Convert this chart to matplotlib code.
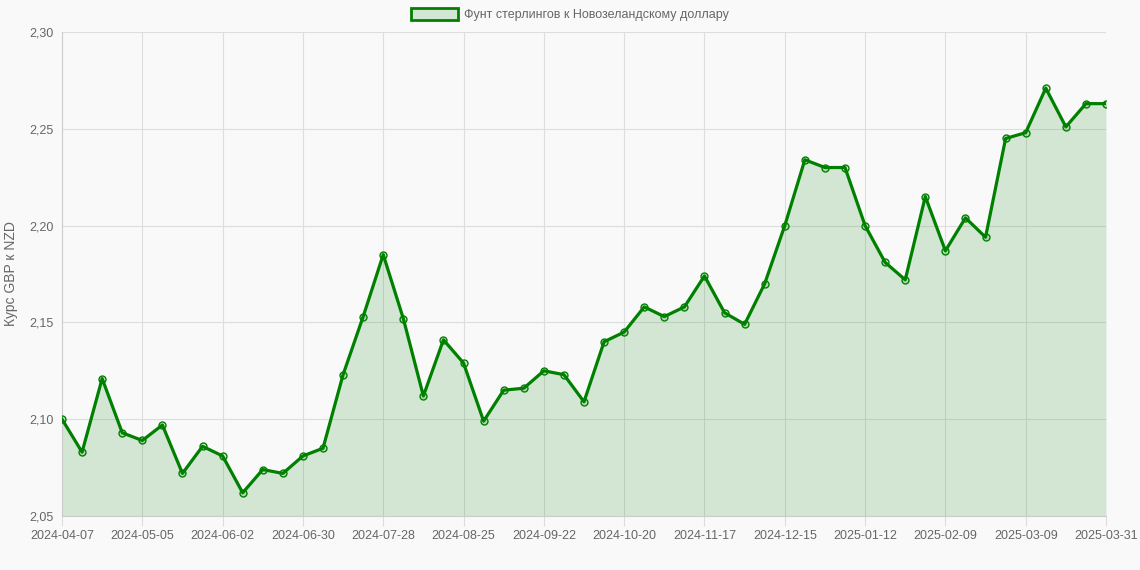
import matplotlib.pyplot as plt
from matplotlib.patches import Patch

plt.rcParams['font.family'] = ['Liberation Sans', 'DejaVu Sans']
plt.rcParams['font.size'] = 9

series_name = "Фунт стерлингов к Новозеландскому доллару"
y_label = "Курс GBP к NZD"

rates = [
    2.100, 2.083, 2.121, 2.093, 2.089, 2.097, 2.072, 2.086, 2.081, 2.062,
    2.074, 2.072, 2.081, 2.085, 2.123, 2.153, 2.185, 2.152, 2.112, 2.141,
    2.129, 2.099, 2.115, 2.116, 2.125, 2.123, 2.109, 2.140, 2.145, 2.158,
    2.153, 2.158, 2.174, 2.155, 2.149, 2.170, 2.200, 2.234, 2.230, 2.230,
    2.200, 2.181, 2.172, 2.215, 2.187, 2.204, 2.194, 2.245, 2.248, 2.271,
    2.251, 2.263, 2.263,
]

tick_labels = [
    "2024-04-07", "2024-05-05", "2024-06-02", "2024-06-30", "2024-07-28",
    "2024-08-25", "2024-09-22", "2024-10-20", "2024-11-17", "2024-12-15",
    "2025-01-12", "2025-02-09", "2025-03-09", "2025-03-31",
]

y_ticks = [2.05, 2.10, 2.15, 2.20, 2.25, 2.30]

green = "#008000"
fill = (0, 0.5, 0, 0.15)
grid_c = "#dddddd"
text_c = "#666666"

fig = plt.figure(figsize=(11.4, 5.7), dpi=100, facecolor="#f9f9f9")
ax = fig.add_axes([62 / 1140, 1 - 516 / 570, (1106 - 62) / 1140, (516 - 32) / 570])
ax.set_facecolor("#f9f9f9")

xs = list(range(len(rates)))
ax.fill_between(xs, rates, 2.05, color=fill, linewidth=0, zorder=2)
ax.plot(xs, rates, color=green, linewidth=2.3, zorder=3)
ax.plot(xs, rates, linestyle="none", marker="o", markersize=5,
        markerfacecolor=fill, markeredgecolor=green, markeredgewidth=1, zorder=4)

ax.set_xlim(0, len(rates) - 1)
ax.set_ylim(2.05, 2.30)
ax.set_xticks(range(0, len(rates), 4))
ax.set_xticklabels(tick_labels)
ax.set_yticks(y_ticks)
ax.set_yticklabels([f"{v:.2f}".replace(".", ",") for v in y_ticks])

ax.grid(True, color=grid_c, linewidth=0.8, zorder=1)
ax.set_axisbelow(True)
for side in ["top", "right"]:
    ax.spines[side].set_visible(False)
for side in ["left", "bottom"]:
    ax.spines[side].set_color("#cccccc")
    ax.spines[side].set_linewidth(0.8)

ax.tick_params(axis="x", colors=grid_c, labelcolor=text_c, length=7, width=0.8, pad=3)
ax.tick_params(axis="y", length=0, labelcolor=text_c, pad=6)

ax.set_ylabel(y_label, color=text_c, fontsize=10)
ax.yaxis.set_label_coords(-0.042, 0.5)

handle = Patch(facecolor=fill, edgecolor=green, linewidth=2)
fig.legend([handle], [series_name], loc="upper center", bbox_to_anchor=(0.5, 1.005),
           frameon=False, labelcolor=text_c, handlelength=3.8, handleheight=1.0,
           handletextpad=0.5, borderpad=0.4, fontsize=9)

fig.savefig("out.png", dpi=100, facecolor=fig.get_facecolor())
